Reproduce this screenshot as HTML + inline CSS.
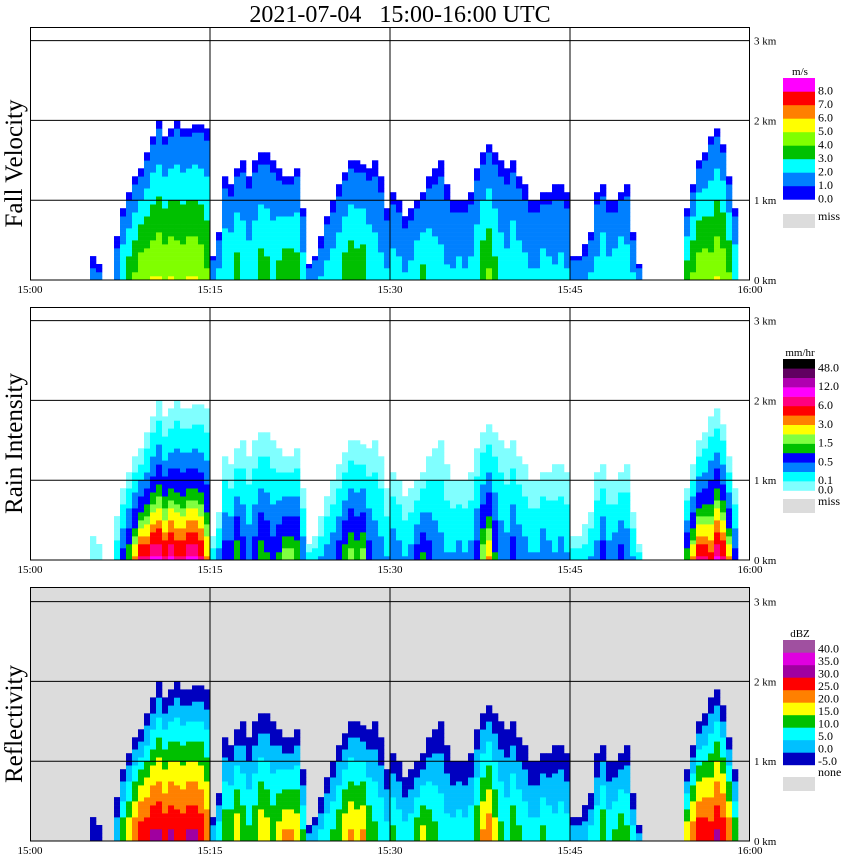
<!DOCTYPE html>
<html><head><meta charset="utf-8"><style>
html,body{margin:0;padding:0;background:#fff;}
svg{display:block;font-family:"Liberation Serif","DejaVu Serif",serif;}
</style></head><body>
<svg id="chart" width="850" height="868" viewBox="0 0 850 868" xmlns="http://www.w3.org/2000/svg">
<text x="400" y="22" font-size="24" text-anchor="middle" style="white-space:pre">2021-07-04   15:00-16:00 UTC</text>
</svg>
<script>
// time bins: 30 s each, 120 bins from 15:00 to 16:00
const echoTopKm = [0,0,0,0,0,0,0,0,0,0,0.3,0.2,0,0,0.5,0.9,1.1,1.3,1.4,1.6,1.8,2.0,1.8,1.9,2.0,1.9,1.9,1.95,1.95,1.9,
0.3,0.6,1.3,1.2,1.4,1.5,1.3,1.5,1.6,1.6,1.5,1.4,1.3,1.3,1.4,0.9,0.2,0.3,0.5,0.8,1.0,1.2,1.35,1.5,1.5,1.45,1.4,1.5,1.3,0.9,
1.1,1.0,0.8,0.9,1.0,1.1,1.3,1.4,1.5,1.2,1.0,1.0,1.0,1.1,1.4,1.6,1.7,1.6,1.5,1.4,1.5,1.3,1.2,1.0,1.0,1.1,1.1,1.2,1.2,1.1,
0.3,0.3,0.4,0.6,1.1,1.2,1.0,1.0,1.1,1.2,0.6,0.2,0,0,0,0,0,0,0,0.9,1.2,1.5,1.6,1.8,1.9,1.7,1.3,0.9,0,0];
const baseDbz = [0,0,0,0,0,0,0,0,0,0,0,0,0,0,5,15,20,25,30,30,32,32,30,32,30,30,32,32,30,25,
5,10,15,15,20,15,12,15,20,18,15,18,22,22,20,12,5,5,8,10,12,15,20,22,20,22,15,12,10,8,
12,10,8,10,15,18,15,12,10,8,8,10,8,10,15,22,25,18,12,10,15,12,10,8,8,12,10,8,10,8,
5,5,5,8,10,15,10,12,15,12,8,5,0,0,0,0,0,0,0,20,25,30,30,28,32,30,25,15,0,0];
const timeTicks = ["15:00","15:15","15:30","15:45","16:00"];
const kmTicks = [0,1,2,3];

const svg = document.getElementById('chart');
const NS = 'http://www.w3.org/2000/svg';
const X0 = 30, X1 = 750, PXKM = 79.8;
const panels = [
  {name:'fall-velocity', title:'Fall Velocity', top:27, base:280, bg:'#fff', unit:'m/s'},
  {name:'rain-intensity', title:'Rain Intensity', top:307, base:560, bg:'#fff', unit:'mm/hr'},
  {name:'reflectivity', title:'Reflectivity', top:587, base:841, bg:'#dcdcdc', unit:'dBZ'}
];
const vCols = ['#0000ff','#0080ff','#00ffff','#00c000','#80ff00','#ffff00','#ff8000','#ff0000','#ff00ff'];
const vThr = [0,1,2,3,4,5,6,7,8];
const rCols = ['#80ffff','#00ffff','#0080ff','#0000ff','#00c000','#80ff40','#ffff00','#ff8000','#ff0000','#ff0080','#ff00ff','#b000b0','#600060','#000000'];
const rThr = [0,0.1,0.25,0.5,1,1.5,2,3,4,6,8,12,24,48];
const zCols = ['#0000c0','#00c0ff','#00ffff','#00c000','#ffff00','#ff8000','#ff0000','#a000a0','#e000e0','#a050a0'];
const zThr = [-5,0,5,10,15,20,25,30,35,40];
function pick(v, thr, cols){let c=null;for(let i=0;i<thr.length;i++){if(v>=thr[i])c=cols[i];}return c;}
function xOf(i){return X0 + i*(X1-X0)/echoTopKm.length;}
function yOf(p,km){return p.base - km*PXKM;}
function mk(tag, attrs, parent){const e=document.createElementNS(NS,tag);for(const k in attrs)e.setAttribute(k,attrs[k]);(parent||svg).appendChild(e);return e;}

panels.forEach((p,pi)=>{
  const g = mk('g',{});
  
  
  const bg = mk('rect',{x:X0,y:p.top,width:X1-X0,height:p.base-p.top,fill:p.bg},g);
  
  
  const cells = mk('g',{},g);
  
  
  const dh = 0.05, bw = (X1-X0)/echoTopKm.length;
  for(let i=0;i<echoTopKm.length;i++){
    const top = echoTopKm[i]; if(top<=0) continue;
    const b = baseDbz[i];
    for(let h=0; h<top; h+=dh){
      const f = Math.pow((h+dh/2)/top,1.15);
      const z = b - (b+4)*f;
      let col;
      if(pi===2) col = pick(z,zThr,zCols) || zCols[0];
      else if(pi===0) col = pick(Math.max(0.5,1.2+z*0.12),vThr,vCols);
      else { const r = Math.pow(Math.pow(10,z/10)/50,1/1.6); col = pick(r,rThr,rCols)||rCols[0]; }
      const r = mk('rect',{x:xOf(i).toFixed(1),y:(yOf(p,h+dh)).toFixed(1),width:(bw+0.3).toFixed(1),height:(dh*PXKM+0.3).toFixed(1),fill:col},cells);
      
      
    }
  }
  kmTicks.forEach(k=>{
    const y = yOf(p,k);
    const l = mk('line',{x1:X0,x2:X1,y1:y,y2:y,stroke:'#000','stroke-width':1},g);
    
    
    const t = mk('text',{x:754,y:y+4,'font-size':11},g);
    t.textContent = k+' km';
    
    
  });
  timeTicks.forEach((lab,j)=>{
    const x = X0 + j*(X1-X0)/(timeTicks.length-1);
    if(j>0 && j<timeTicks.length-1){
      const l = mk('line',{x1:x,x2:x,y1:p.top,y2:p.base,stroke:'#000','stroke-width':1},g);
      
      
    }
    const t = mk('text',{x:x,y:p.base+13,'font-size':11,'text-anchor':'middle'},g);
    t.textContent = lab;
    
    
  });
  const fr = mk('rect',{x:X0+0.5,y:p.top+0.5,width:X1-X0-1,height:p.base-p.top-0.5,fill:'none',stroke:'#000','stroke-width':1},g);
  
  
  const cy = (p.top+p.base)/2+10;
  const tt = mk('text',{x:22,y:cy,'font-size':25,'text-anchor':'middle',transform:'rotate(-90 22 '+cy+')'},g);
  tt.textContent = p.title;
  
  
  const lg = mk('g',{},g);
  
  
  let cols, labels, ly, bh, missY, missLab;
  if(pi===0){cols=vCols;labels=['0.0','1.0','2.0','3.0','4.0','5.0','6.0','7.0','8.0'];ly=78;bh=13.5;missY=214;missLab='miss';}
  else if(pi===1){cols=rCols;labels=['0.0','0.1','','0.5','','1.5','','3.0','','6.0','','12.0','','48.0'];ly=359;bh=9.4;missY=499;missLab='miss';}
  else {cols=zCols;labels=['-5.0','0.0','5.0','10.0','15.0','20.0','25.0','30.0','35.0','40.0'];ly=640;bh=12.5;missY=777;missLab='none';}
  const n = cols.length, bot = ly + n*bh;
  const ut = mk('text',{x:800,y:ly-3,'font-size':11,'text-anchor':'middle'},lg);
  ut.textContent = p.unit;
  
  
  for(let k=0;k<n;k++){
    const r = mk('rect',{x:783,y:(bot-(k+1)*bh).toFixed(1),width:32,height:(bh+0.2).toFixed(1),fill:cols[k]},lg);
    
    
    if(labels[k]){
      const t = mk('text',{x:818,y:(bot-k*bh+ (pi===2?0:3)).toFixed(1),'font-size':12},lg);
      t.textContent = labels[k];
      
      
    }
  }
  const mr = mk('rect',{x:783,y:missY,width:32,height:14,fill:'#dcdcdc'},lg);
  
  
  const mt = mk('text',{x:818,y:missY+(pi===2?-1:6),'font-size':12},lg);
  mt.textContent = missLab;
  
  
});
</script>
</body></html>
